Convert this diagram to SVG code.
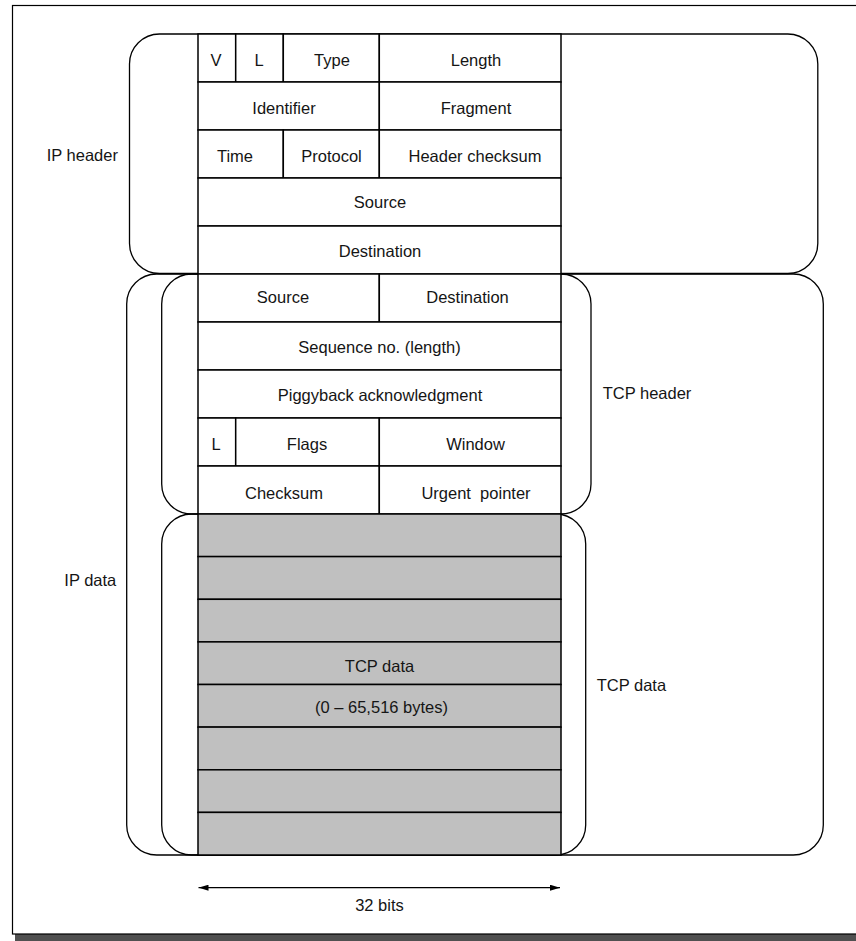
<svg xmlns="http://www.w3.org/2000/svg" width="856" height="941" viewBox="0 0 856 941">
<defs>
<style>
text{font-family:"Liberation Sans",Arial,Helvetica,sans-serif;font-size:16.5px;fill:#151515;white-space:pre}
.c{text-anchor:middle}
.cell{fill:#fff;stroke:#000;stroke-width:1.5}
.dcell{fill:#c0c0c0;stroke:#000;stroke-width:1.5}
.box{fill:none;stroke:#000;stroke-width:1.3}
.ln{stroke:#000;stroke-width:1.3;fill:none}
</style>
<marker id="ah" viewBox="0 0 10 6" refX="10" refY="3" markerWidth="10" markerHeight="6" markerUnits="userSpaceOnUse" orient="auto-start-reverse">
<path d="M0,0 L10,3 L0,6 Z" fill="#000"/>
</marker>
</defs>
<rect x="0" y="0" width="856" height="941" fill="#fff"/>
<rect x="15" y="934" width="845" height="10" fill="#505050"/>
<rect x="12.5" y="5.5" width="860" height="928.5" fill="#fff" stroke="#000" stroke-width="1.2"/>

<g id="ip-header-box"><rect class="box" x="129.5" y="34" width="688.3" height="239.5" rx="30" ry="30"/><text x="46.7" y="161">IP header</text></g>
<g id="ip-data-box"><rect class="box" x="126.7" y="274" width="696.6" height="581" rx="30" ry="30"/><text x="64.3" y="586">IP data</text></g>
<g id="tcp-header-box"><rect class="box" x="161.7" y="274" width="429.3" height="240" rx="30" ry="30"/><text x="602.7" y="399.3">TCP header</text></g>
<g id="tcp-data-box"><rect class="box" x="161.7" y="514" width="424" height="341" rx="30" ry="30"/><text x="596.7" y="691">TCP data</text></g>

<g id="ip-v"><rect class="cell" x="198" y="34" width="37.7" height="48"/><text class="c" x="216" y="65.5">V</text></g>
<g id="ip-l"><rect class="cell" x="235.7" y="34" width="47.6" height="48"/><text class="c" x="259" y="65.5">L</text></g>
<g id="ip-type"><rect class="cell" x="283.3" y="34" width="96" height="48"/><text class="c" x="332" y="65.5">Type</text></g>
<g id="ip-length"><rect class="cell" x="379.3" y="34" width="181.7" height="48"/><text class="c" x="476" y="65.5">Length</text></g>
<g id="ip-identifier"><rect class="cell" x="198" y="82" width="181.3" height="48"/><text class="c" x="284" y="114">Identifier</text></g>
<g id="ip-fragment"><rect class="cell" x="379.3" y="82" width="181.7" height="48"/><text class="c" x="476" y="114">Fragment</text></g>
<g id="ip-time"><rect class="cell" x="198" y="130" width="85.3" height="48"/><text class="c" x="235" y="161.5">Time</text></g>
<g id="ip-protocol"><rect class="cell" x="283.3" y="130" width="96" height="48"/><text class="c" x="331.5" y="161.5">Protocol</text></g>
<g id="ip-checksum"><rect class="cell" x="379.3" y="130" width="181.7" height="48"/><text class="c" x="475" y="161.5">Header checksum</text></g>
<g id="ip-source"><rect class="cell" x="198" y="178" width="363" height="48"/><text class="c" x="380" y="207.5">Source</text></g>
<g id="ip-destination"><rect class="cell" x="198" y="226" width="363" height="48"/><text class="c" x="380" y="257">Destination</text></g>

<g id="tcp-source"><rect class="cell" x="198" y="274" width="181.3" height="48"/><text class="c" x="283" y="303">Source</text></g>
<g id="tcp-destination"><rect class="cell" x="379.3" y="274" width="181.7" height="48"/><text class="c" x="467.5" y="303">Destination</text></g>
<g id="tcp-sequence"><rect class="cell" x="198" y="322" width="363" height="48"/><text class="c" x="379.5" y="353">Sequence no. (length)</text></g>
<g id="tcp-ack"><rect class="cell" x="198" y="370" width="363" height="48"/><text class="c" x="380" y="401">Piggyback acknowledgment</text></g>
<g id="tcp-l"><rect class="cell" x="198" y="418" width="37.7" height="48"/><text class="c" x="216" y="450">L</text></g>
<g id="tcp-flags"><rect class="cell" x="235.7" y="418" width="143.6" height="48"/><text class="c" x="307" y="450">Flags</text></g>
<g id="tcp-window"><rect class="cell" x="379.3" y="418" width="181.7" height="48"/><text class="c" x="475.5" y="450">Window</text></g>
<g id="tcp-checksum"><rect class="cell" x="198" y="466" width="181.3" height="48"/><text class="c" x="284" y="498.5">Checksum</text></g>
<g id="tcp-urgent"><rect class="cell" x="379.3" y="466" width="181.7" height="48"/><text class="c" x="476" y="499">Urgent  pointer</text></g>

<g id="tcp-data">
<rect class="dcell" x="198" y="514" width="363" height="42.6"/>
<rect class="dcell" x="198" y="556.6" width="363" height="42.7"/>
<rect class="dcell" x="198" y="599.3" width="363" height="42.6"/>
<rect class="dcell" x="198" y="641.9" width="363" height="42.6"/>
<rect class="dcell" x="198" y="684.5" width="363" height="42.6"/>
<rect class="dcell" x="198" y="727.1" width="363" height="42.7"/>
<rect class="dcell" x="198" y="769.8" width="363" height="42.6"/>
<rect class="dcell" x="198" y="812.4" width="363" height="42.6"/>
<text class="c" x="379.5" y="671.5">TCP data</text>
<text class="c" x="381.5" y="712.5">(0 – 65,516 bytes)</text>
</g>

<g id="connectors">
<line class="ln" x1="198.5" y1="887.7" x2="560" y2="887.7" marker-start="url(#ah)" marker-end="url(#ah)"/>
</g>
<g id="width-label"><text class="c" x="379.5" y="910.5">32 bits</text></g>
</svg>
